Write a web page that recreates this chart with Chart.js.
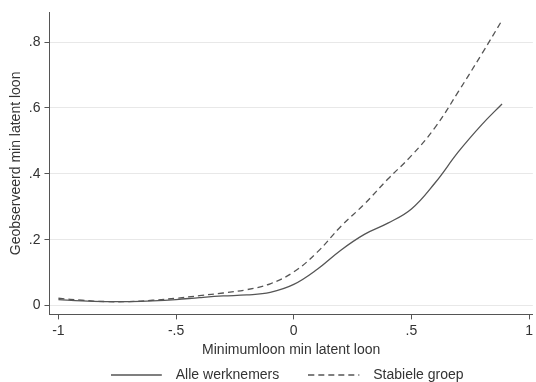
<!DOCTYPE html>
<html>
<head>
<meta charset="utf-8">
<script src="https://cdn.jsdelivr.net/npm/chart.js@4/dist/chart.umd.min.js"></script>
<style>
  html, body { margin: 0; padding: 0; background: #fff; }
  #wrap { width: 536px; height: 382px; }
</style>
</head>
<body>
<div id="wrap"><canvas id="chart"></canvas></div>
<script>
// Data
const xValues = [-1, -0.9, -0.8, -0.7, -0.6, -0.5, -0.4, -0.3, -0.2, -0.1, 0, 0.1, 0.2, 0.3, 0.4, 0.5, 0.6, 0.7, 0.8, 0.885];
const alleWerknemers = [0.018, 0.014, 0.012, 0.012, 0.014, 0.018, 0.024, 0.029, 0.032, 0.040, 0.064, 0.110, 0.168, 0.216, 0.250, 0.293, 0.372, 0.467, 0.550, 0.612];
const stabieleGroep = [0.022, 0.016, 0.012, 0.012, 0.016, 0.022, 0.030, 0.038, 0.048, 0.066, 0.102, 0.162, 0.240, 0.308, 0.384, 0.455, 0.540, 0.650, 0.765, 0.866];
const xTicks = [-1, -0.5, 0, 0.5, 1];
const yTicks = [0, 0.2, 0.4, 0.6, 0.8];

const ink = '#555';
const textColor = '#333';

// Stata-style labels: .8, -.5
function stataLabel(v) {
  return String(Math.round(v * 100) / 100).replace(/^(-?)0\./, '$1.');
}

function toPoints(ys) {
  return xValues.map((x, i) => ({ x: x, y: ys[i] }));
}

// legend key: a 51px line sample inside a 58px box, so the text sits a bit further off
function legendKey(dash) {
  const c = document.createElement('canvas');
  c.width = 58;
  c.height = 4;
  const ctx = c.getContext('2d');
  ctx.strokeStyle = ink;
  ctx.lineWidth = 1.3;
  ctx.setLineDash(dash);
  ctx.beginPath();
  ctx.moveTo(0, 2);
  ctx.lineTo(51, 2);
  ctx.stroke();
  return c;
}

// Stata centers the legend on the plot region and keeps the rows tight:
// wide gap between items, small gap above them
const LEGEND_PAD = 29;
const LEGEND_SHRINK = 30;
const LEGEND_SHIFT = 20;
const legendTweaks = {
  id: 'legendTweaks',
  beforeLayout(chart) {
    const lg = chart.legend;
    if (!lg || lg._tweaked) return;
    lg._tweaked = true;
    const fit = lg.fit;
    const draw = lg.draw;
    lg.fit = function() {
      fit.call(this);
      this.height -= LEGEND_SHRINK;
    };
    lg.draw = function() {
      const top = this.top;
      const height = this.height;
      this.top = top - LEGEND_SHIFT;
      this.height = height + LEGEND_SHIFT;
      draw.call(this);
      this.top = top;
      this.height = height;
    };
  },
  afterLayout(chart) {
    chart.legend.left = chart.chartArea.left - 4;
    chart.legend.right = chart.chartArea.right - 4;
  }
};

Chart.defaults.font.family = "'Liberation Sans', Arial, sans-serif";
Chart.defaults.font.size = 14;
Chart.defaults.color = textColor;

new Chart(document.getElementById('chart'), {
  type: 'line',
  data: {
    datasets: [
      {
        label: 'Alle werknemers',
        data: toPoints(alleWerknemers),
        borderColor: ink,
        borderWidth: 1.3,
        pointRadius: 0,
        pointStyle: legendKey([]),
        tension: 0.4,
        fill: false
      },
      {
        label: 'Stabiele groep',
        data: toPoints(stabieleGroep),
        borderColor: ink,
        borderWidth: 1.3,
        borderDash: [6, 4],
        pointRadius: 0,
        pointStyle: legendKey([6, 4]),
        tension: 0.4,
        fill: false
      }
    ]
  },
  plugins: [legendTweaks],
  options: {
    responsive: true,
    maintainAspectRatio: false,
    animation: false,
    layout: { padding: { top: 12, right: 2, left: 8, bottom: 0 } },
    plugins: {
      legend: {
        position: 'bottom',
        labels: {
          usePointStyle: true,
          pointStyleWidth: 58,
          boxHeight: 14,
          padding: LEGEND_PAD,
          color: textColor
        }
      },
      tooltip: { enabled: false }
    },
    scales: {
      x: {
        type: 'linear',
        min: -1.038,
        max: 1.016,
        afterBuildTicks: axis => { axis.ticks = xTicks.map(v => ({ value: v })); },
        ticks: { callback: v => stataLabel(v), padding: 3, maxRotation: 0 },
        grid: { drawOnChartArea: false, drawTicks: true, tickLength: 5, tickColor: ink },
        border: { color: ink, width: 1 },
        title: { display: true, text: 'Minimumloon min latent loon', padding: { top: 0, bottom: 0 } }
      },
      y: {
        type: 'linear',
        min: -0.027,
        max: 0.89,
        afterBuildTicks: axis => { axis.ticks = yTicks.map(v => ({ value: v })); },
        ticks: { callback: v => stataLabel(v), padding: 4 },
        grid: { color: '#e8e8e8', lineWidth: 1, drawTicks: true, tickLength: 5, tickColor: ink },
        border: { color: ink, width: 1 },
        title: { display: true, text: 'Geobserveerd min latent loon', padding: { top: 0, bottom: 0 } }
      }
    }
  }
});
</script>
</body>
</html>
